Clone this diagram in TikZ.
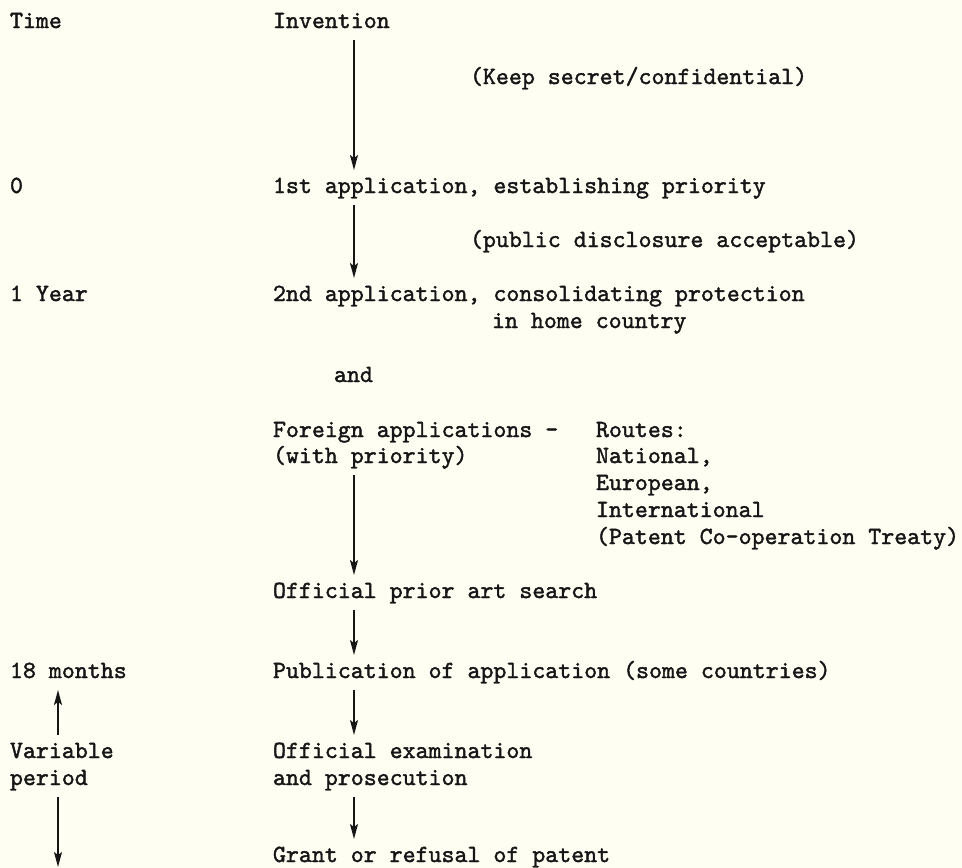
\documentclass[tikz,border=0pt]{standalone}
\usetikzlibrary{arrows.meta}
\definecolor{paper}{HTML}{FFFEF3}
\definecolor{ink}{HTML}{161616}
\font\twf="[lmmono10-regular]:embolden=1.6" at 24.7pt
\begin{document}
\begin{tikzpicture}[x=1pt,y=-1pt,
  txt/.style={anchor=base west,inner sep=0pt,outer sep=0pt,text height=23pt,text depth=12pt,
    font=\twf,text=ink},
  arr/.style={draw=ink,line width=1.5pt,-{Stealth[length=15pt,width=8pt,inset=3pt]}}]
\fill[paper] (0,0) rectangle (962,868);
\useasboundingbox (0,0) rectangle (962,868);
% columns
\coordinate (mx) at (354,0);
\coordinate (lx) at (58,0);
\coordinate (lend) at (58,867);
% left column
\node[txt] (time) at (10,28) {Time};
\node[txt] (t0) at (10,193) {0};
\node[txt] (yr) at (10,301) {1 Year};
\node[txt] (m18) at (10,678) {18 months};
\node[txt] (var) at (10,758) {Variable};
\node[txt] (per) at (10,785) {period};
% middle column
\node[txt] (inv) at (273,28) {Invention};
\node[txt] (app1) at (273,193) {1st application, establishing priority};
\node[txt] (app2) at (273,301) {2nd application, consolidating protection};
\node[txt] (home) at (492,328) {in home country};
\node[txt] (and) at (334,382) {and};
\node[txt] (foreign) at (273,437) {Foreign applications -};
\node[txt] (withp) at (273,463) {(with priority)};
\node[txt] (search) at (273,598) {Official prior art search};
\node[txt] (pub) at (273,678) {Publication of application (some countries)};
\node[txt] (exam) at (273,758) {Official examination};
\node[txt] (pros) at (273,785) {and prosecution};
\node[txt] (grant) at (273,862) {Grant or refusal of patent};
% right column
\node[txt] (keep) at (470,84) {(Keep secret/confidential)};
\node[txt] (public) at (470,247) {(public disclosure acceptable)};
\node[txt] (routes) at (596,437) {Routes:};
\node[txt] (nat) at (596,463) {National,};
\node[txt] (eur) at (596,490) {European,};
\node[txt] (intl) at (596,517) {International};
\node[txt] (pct) at (596,544) {(Patent Co-operation Treaty)};
% arrows
\draw[arr] (inv.south -| mx) -- (app1.north -| mx);
\draw[arr] (app1.south -| mx) -- (app2.north -| mx);
\draw[arr] (withp.south -| mx) -- (search.north -| mx);
\draw[arr] (search.south -| mx) -- (pub.north -| mx);
\draw[arr] (pub.south -| mx) -- (exam.north -| mx);
\draw[arr] (pros.south -| mx) -- (grant.north -| mx);
\draw[arr] (var.north -| lx) -- (m18.south -| lx);
\draw[arr] (per.south -| lx) -- (lend);
\end{tikzpicture}
\end{document}
